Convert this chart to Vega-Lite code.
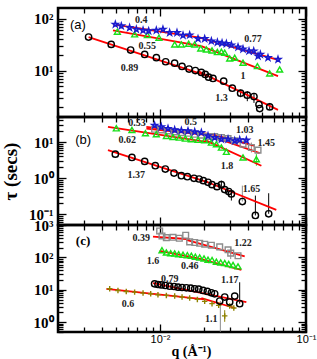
{
"$schema":"https://vega.github.io/schema/vega-lite/v6.json",
"padding":{"left":0,"top":6,"right":2,"bottom":0},
"background":"white",
"spacing":0,
"bounds":"flush",
"config":{"view":{"stroke":"black","strokeWidth":2.5},"axis":{"domain":false,"grid":false,"tickColor":"black","tickWidth":1.3,"labelFont":"Liberation Serif","labelFontWeight":"bold","labelFontSize":15,"labelColor":"black","titleFont":"Liberation Serif","titleFontWeight":"bold","titleColor":"black","labelOverlap":false,"labelFlush":false,"tickCount":10}},
"datasets":{
"pts":[
{"p":"a","s":"k","q":0.00324,"t":44.4},{"p":"a","s":"k","q":0.00463,"t":32.1},{"p":"a","s":"k","q":0.00629,"t":25.0},{"p":"a","s":"k","q":0.00785,"t":20.6},{"p":"a","s":"k","q":0.00944,"t":17.8},{"p":"a","s":"k","q":0.01093,"t":14.9},{"p":"a","s":"k","q":0.01259,"t":14.0},{"p":"a","s":"k","q":0.01415,"t":12.1},{"p":"a","s":"k","q":0.01581,"t":10.8},{"p":"a","s":"k","q":0.01746,"t":10.1},{"p":"a","s":"k","q":0.01919,"t":9.29},{"p":"a","s":"k","q":0.02042,"t":8.5},{"p":"a","s":"k","q":0.02153,"t":7.55},{"p":"a","s":"k","q":0.02306,"t":7.12},{"p":"a","s":"k","q":0.02729,"t":6.33},{"p":"a","s":"k","q":0.03128,"t":4.64},{"p":"a","s":"k","q":0.03565,"t":3.72},{"p":"a","s":"k","q":0.03962,"t":3.40},{"p":"a","s":"k","q":0.04401,"t":3.21},{"p":"a","s":"k","q":0.04763,"t":2.25},{"p":"a","s":"k","q":0.04818,"t":1.89},{"p":"a","s":"k","q":0.05641,"t":2.03},
{"p":"a","s":"g","q":0.0051,"t":56.2},{"p":"a","s":"g","q":0.0067,"t":50.0},{"p":"a","s":"g","q":0.00819,"t":48.5},{"p":"a","s":"g","q":0.00983,"t":43.1},{"p":"a","s":"g","q":0.0126,"t":32.1},{"p":"a","s":"g","q":0.014,"t":32.1},{"p":"a","s":"g","q":0.01571,"t":33.1},{"p":"a","s":"g","q":0.01728,"t":32.1},{"p":"a","s":"g","q":0.019,"t":26.9},{"p":"a","s":"g","q":0.02077,"t":25.7},{"p":"a","s":"g","q":0.02271,"t":24.6},{"p":"a","s":"g","q":0.0247,"t":22.9},{"p":"a","s":"g","q":0.02632,"t":23.2},{"p":"a","s":"g","q":0.02774,"t":22.2},{"p":"a","s":"g","q":0.03001,"t":17.3},{"p":"a","s":"g","q":0.03248,"t":17.8},{"p":"a","s":"g","q":0.03703,"t":14.3},{"p":"a","s":"g","q":0.04644,"t":12.3},{"p":"a","s":"g","q":0.05636,"t":8.89},{"p":"a","s":"g","q":0.066,"t":10.6},
{"p":"a","s":"b","q":0.00494,"t":77.8},{"p":"a","s":"b","q":0.00543,"t":72.3},{"p":"a","s":"b","q":0.00619,"t":67.1},{"p":"a","s":"b","q":0.00688,"t":62.3},{"p":"a","s":"b","q":0.00765,"t":59.6},{"p":"a","s":"b","q":0.00836,"t":57.9},{"p":"a","s":"b","q":0.00943,"t":59.6},{"p":"a","s":"b","q":0.01047,"t":62.3},{"p":"a","s":"b","q":0.01164,"t":53.8},{"p":"a","s":"b","q":0.01307,"t":53.8},{"p":"a","s":"b","q":0.01437,"t":47.8},{"p":"a","s":"b","q":0.01596,"t":48.5},{"p":"a","s":"b","q":0.01821,"t":41.2},{"p":"a","s":"b","q":0.02023,"t":41.2},{"p":"a","s":"b","q":0.02247,"t":37.2},{"p":"a","s":"b","q":0.0247,"t":35.1},{"p":"a","s":"b","q":0.0266,"t":34.0},{"p":"a","s":"b","q":0.02848,"t":33.1},{"p":"a","s":"b","q":0.03082,"t":31.2},{"p":"a","s":"b","q":0.03422,"t":28.5},{"p":"a","s":"b","q":0.03703,"t":26.1},{"p":"a","s":"b","q":0.0407,"t":23.9},{"p":"a","s":"b","q":0.04383,"t":23.9},{"p":"a","s":"b","q":0.04693,"t":19.1},{"p":"a","s":"b","q":0.04869,"t":20.6},{"p":"a","s":"b","q":0.0549,"t":17.8},{"p":"a","s":"b","q":0.0643,"t":16.5},
{"p":"b","s":"r","q":0.00918,"t":22.8},{"p":"b","s":"r","q":0.0102,"t":21.9},{"p":"b","s":"r","q":0.01134,"t":20.5},{"p":"b","s":"r","q":0.0126,"t":19.3},{"p":"b","s":"r","q":0.014,"t":18.45},{"p":"b","s":"r","q":0.01555,"t":17.7},{"p":"b","s":"r","q":0.01728,"t":16.6},{"p":"b","s":"r","q":0.01919,"t":15.6},{"p":"b","s":"r","q":0.02132,"t":14.3},{"p":"b","s":"r","q":0.02368,"t":14.3},{"p":"b","s":"r","q":0.02632,"t":13.4},{"p":"b","s":"r","q":0.02924,"t":12.6},{"p":"b","s":"r","q":0.03248,"t":10.9},{"p":"b","s":"r","q":0.03703,"t":8.79},{"p":"b","s":"r","q":0.04225,"t":7.1},{"p":"b","s":"r","q":0.04693,"t":6.0},
{"p":"b","s":"g","q":0.00502,"t":24.3},{"p":"b","s":"g","q":0.00642,"t":21.9},{"p":"b","s":"g","q":0.00794,"t":17.7},{"p":"b","s":"g","q":0.00943,"t":16.6},{"p":"b","s":"g","q":0.01105,"t":14.9},{"p":"b","s":"g","q":0.01227,"t":14.0},{"p":"b","s":"g","q":0.01356,"t":13.4},{"p":"b","s":"g","q":0.01491,"t":12.6},{"p":"b","s":"g","q":0.01639,"t":12.1},{"p":"b","s":"g","q":0.01821,"t":11.6},{"p":"b","s":"g","q":0.02023,"t":11.3},{"p":"b","s":"g","q":0.02247,"t":9.77},{"p":"b","s":"g","q":0.02432,"t":8.79},{"p":"b","s":"g","q":0.02632,"t":7.1},{"p":"b","s":"g","q":0.02848,"t":5.39},{"p":"b","s":"g","q":0.03703,"t":3.76},{"p":"b","s":"g","q":0.04571,"t":3.38},
{"p":"b","s":"b","q":0.00918,"t":29.4},{"p":"b","s":"b","q":0.0102,"t":26.5},{"p":"b","s":"b","q":0.01134,"t":23.8},{"p":"b","s":"b","q":0.0126,"t":21.9},{"p":"b","s":"b","q":0.014,"t":21.0},{"p":"b","s":"b","q":0.01555,"t":20.5},{"p":"b","s":"b","q":0.01728,"t":19.3},{"p":"b","s":"b","q":0.01919,"t":18.45},{"p":"b","s":"b","q":0.02132,"t":14.9},{"p":"b","s":"b","q":0.02368,"t":13.4},{"p":"b","s":"b","q":0.02632,"t":12.1},{"p":"b","s":"b","q":0.02924,"t":12.1},{"p":"b","s":"b","q":0.03248,"t":10.9},{"p":"b","s":"b","q":0.03513,"t":11.6},{"p":"b","s":"b","q":0.03903,"t":11.3},
{"p":"b","s":"k","q":0.00494,"t":4.65},{"p":"b","s":"k","q":0.00642,"t":3.76},{"p":"b","s":"k","q":0.00785,"t":2.92},{"p":"b","s":"k","q":0.00928,"t":2.214},{"p":"b","s":"k","q":0.01087,"t":1.79},{"p":"b","s":"k","q":0.01247,"t":1.39},{"p":"b","s":"k","q":0.014,"t":1.17},{"p":"b","s":"k","q":0.01539,"t":1.10},{"p":"b","s":"k","q":0.01709,"t":0.989},{"p":"b","s":"k","q":0.0185,"t":0.948},{"p":"b","s":"k","q":0.01981,"t":0.853},{"p":"b","s":"k","q":0.02132,"t":0.767},{"p":"b","s":"k","q":0.02271,"t":0.661},{"p":"b","s":"k","q":0.02457,"t":0.582},{"p":"b","s":"k","q":0.02632,"t":0.661},{"p":"b","s":"k","q":0.02774,"t":0.481},{"p":"b","s":"k","q":0.02955,"t":0.424},{"p":"b","s":"k","q":0.03082,"t":0.365},{"p":"b","s":"k","q":0.03664,"t":0.2245},{"p":"b","s":"k","q":0.045,"t":0.0921},{"p":"b","s":"k","q":0.0555,"t":0.1024},
{"p":"c","s":"r","q":0.00994,"t":654},{"p":"c","s":"r","q":0.01031,"t":460},{"p":"c","s":"r","q":0.01105,"t":409},{"p":"c","s":"r","q":0.01227,"t":418},{"p":"c","s":"r","q":0.01356,"t":390},{"p":"c","s":"r","q":0.01499,"t":482},{"p":"c","s":"r","q":0.01596,"t":301},{"p":"c","s":"r","q":0.01728,"t":288},{"p":"c","s":"r","q":0.01869,"t":274},{"p":"c","s":"r","q":0.02023,"t":256},{"p":"c","s":"r","q":0.02247,"t":238},{"p":"c","s":"r","q":0.02563,"t":212},{"p":"c","s":"r","q":0.02924,"t":172},{"p":"c","s":"r","q":0.03049,"t":136},{"p":"c","s":"r","q":0.03422,"t":112.4},
{"p":"c","s":"g","q":0.01031,"t":167.5},{"p":"c","s":"g","q":0.01105,"t":142},{"p":"c","s":"g","q":0.01183,"t":135.6},{"p":"c","s":"g","q":0.0126,"t":132.5},{"p":"c","s":"g","q":0.01342,"t":126.4},{"p":"c","s":"g","q":0.01437,"t":120.6},{"p":"c","s":"g","q":0.01539,"t":117.7},{"p":"c","s":"g","q":0.01639,"t":112.4},{"p":"c","s":"g","q":0.01746,"t":104.8},{"p":"c","s":"g","q":0.01869,"t":100},{"p":"c","s":"g","q":0.02002,"t":93.2},{"p":"c","s":"g","q":0.02132,"t":84.8},{"p":"c","s":"g","q":0.02271,"t":82.8},{"p":"c","s":"g","q":0.02432,"t":73.7},{"p":"c","s":"g","q":0.02604,"t":70.3},{"p":"c","s":"g","q":0.02774,"t":67.0},{"p":"c","s":"g","q":0.02955,"t":62.5},{"p":"c","s":"g","q":0.03164,"t":58.3},{"p":"c","s":"g","q":0.03422,"t":53.0},
{"p":"c","s":"o","q":0.00452,"t":10.75},{"p":"c","s":"o","q":0.00515,"t":9.56},{"p":"c","s":"o","q":0.00587,"t":8.91},{"p":"c","s":"o","q":0.0067,"t":8.5},{"p":"c","s":"o","q":0.00765,"t":7.92},{"p":"c","s":"o","q":0.00863,"t":7.56},{"p":"c","s":"o","q":0.00968,"t":7.05},{"p":"c","s":"o","q":0.01105,"t":6.72},{"p":"c","s":"o","q":0.0126,"t":6.4},{"p":"c","s":"o","q":0.01415,"t":5.98},{"p":"c","s":"o","q":0.01596,"t":5.57},{"p":"c","s":"o","q":0.01802,"t":5.07},{"p":"c","s":"o","q":0.02023,"t":4.41},{"p":"c","s":"o","q":0.02271,"t":3.74},{"p":"c","s":"o","q":0.02523,"t":3.32},{"p":"c","s":"o","q":0.02774,"t":1.57},{"p":"c","s":"o","q":0.03001,"t":3.17},{"p":"c","s":"o","q":0.03202,"t":2.75},
{"p":"c","s":"k","q":0.00918,"t":15.3},{"p":"c","s":"k","q":0.00968,"t":14.6},{"p":"c","s":"k","q":0.0102,"t":14.2},{"p":"c","s":"k","q":0.01087,"t":13.6},{"p":"c","s":"k","q":0.01164,"t":12.97},{"p":"c","s":"k","q":0.01247,"t":12.67},{"p":"c","s":"k","q":0.01328,"t":12.09},{"p":"c","s":"k","q":0.01415,"t":11.8},{"p":"c","s":"k","q":0.01515,"t":11.53},{"p":"c","s":"k","q":0.01623,"t":11.26},{"p":"c","s":"k","q":0.01728,"t":10.75},{"p":"c","s":"k","q":0.01842,"t":10.5},{"p":"c","s":"k","q":0.0197,"t":9.56},{"p":"c","s":"k","q":0.02108,"t":8.91},{"p":"c","s":"k","q":0.02247,"t":8.11},{"p":"c","s":"k","q":0.02368,"t":7.56},{"p":"c","s":"k","q":0.02563,"t":4.51},{"p":"c","s":"k","q":0.02774,"t":5.98},{"p":"c","s":"k","q":0.03001,"t":4.2},{"p":"c","s":"k","q":0.03248,"t":6.4},{"p":"c","s":"k","q":0.03513,"t":3.74}
],
"fits":[
{"p":"a","id":"a1","q":0.00324,"t":44.4},{"p":"a","id":"a1","q":0.02132,"t":7.89},
{"p":"a","id":"a2","q":0.0182,"t":9.86},{"p":"a","id":"a2","q":0.0643,"t":1.78},
{"p":"a","id":"a3","q":0.00476,"t":77.8},{"p":"a","id":"a3","q":0.02023,"t":41.9},
{"p":"a","id":"a4","q":0.01821,"t":44.4},{"p":"a","id":"a4","q":0.066,"t":15.8},
{"p":"a","id":"a5","q":0.00476,"t":59.6},{"p":"a","id":"a5","q":0.01919,"t":29.8},
{"p":"a","id":"a6","q":0.01919,"t":29.8},{"p":"a","id":"a6","q":0.0643,"t":7.9},
{"p":"b","id":"b1","q":0.0044,"t":6.0},{"p":"b","id":"b1","q":0.02132,"t":0.767},
{"p":"b","id":"b2","q":0.02023,"t":0.836},{"p":"b","id":"b2","q":0.0626,"t":0.132},
{"p":"b","id":"b3","q":0.0044,"t":26.5},{"p":"b","id":"b3","q":0.02247,"t":9.77},
{"p":"b","id":"b4","q":0.02023,"t":11.6},{"p":"b","id":"b4","q":0.04946,"t":2.214},
{"p":"b","id":"b5","q":0.00806,"t":26.5},{"p":"b","id":"b5","q":0.02247,"t":16.6},
{"p":"b","id":"b6","q":0.02247,"t":16.6},{"p":"b","id":"b6","q":0.04453,"t":7.9},
{"p":"b","id":"b7","q":0.00806,"t":23.8},{"p":"b","id":"b7","q":0.02132,"t":15.6},
{"p":"b","id":"b8","q":0.02132,"t":15.6},{"p":"b","id":"b8","q":0.04818,"t":4.95},
{"p":"c","id":"c1","q":0.00895,"t":439},{"p":"c","id":"c1","q":0.01596,"t":363.6},
{"p":"c","id":"c2","q":0.01515,"t":347},{"p":"c","id":"c2","q":0.03802,"t":107.3},
{"p":"c","id":"c3","q":0.00994,"t":159.8},{"p":"c","id":"c3","q":0.01821,"t":93.2},
{"p":"c","id":"c4","q":0.01821,"t":93.2},{"p":"c","id":"c4","q":0.03607,"t":41.0},
{"p":"c","id":"c5","q":0.00895,"t":16.0},{"p":"c","id":"c5","q":0.03903,"t":4.2},
{"p":"c","id":"c6","q":0.00429,"t":10.75},{"p":"c","id":"c6","q":0.02023,"t":5.07},
{"p":"c","id":"c7","q":0.01919,"t":5.57},{"p":"c","id":"c7","q":0.03248,"t":2.75}
],
"errs":[
{"p":"a","s":"k","q":0.03565,"lo":3.11,"hi":4.37},{"p":"a","s":"k","q":0.03962,"lo":2.61,"hi":4.06},{"p":"a","s":"k","q":0.04401,"lo":2.42,"hi":3.77},{"p":"a","s":"k","q":0.05641,"lo":1.80,"hi":2.42},
{"p":"b","s":"k","q":0.02632,"lo":0.451,"hi":0.853},{"p":"b","s":"k","q":0.03082,"lo":0.239,"hi":0.451},{"p":"b","s":"r","q":0.03664,"lo":0.2245,"hi":0.62},{"p":"b","s":"k","q":0.045,"lo":0.0921,"hi":0.328},{"p":"b","s":"k","q":0.0555,"lo":0.1024,"hi":0.381},{"p":"b","s":"r","q":0.04225,"lo":5.17,"hi":9.77},{"p":"b","s":"g","q":0.04571,"lo":2.214,"hi":4.65},
{"p":"c","s":"k","q":0.03513,"lo":3.74,"hi":17.1},{"p":"c","s":"r","q":0.0259,"lo":0.51,"hi":4.51},{"p":"c","s":"o","q":0.02774,"lo":1.03,"hi":2.36},{"p":"c","s":"r","q":0.03049,"lo":88.9,"hi":202}
],
"labels":[
{"p":"a","q":0.00745,"t":92.8,"txt":"0.4"},{"p":"a","q":0.04337,"t":40.0,"txt":"0.77"},{"p":"a","q":0.00819,"t":29.8,"txt":"0.55"},{"p":"a","q":0.00619,"t":11.4,"txt":"0.89"},{"p":"a","q":0.03703,"t":7.9,"txt":"1"},{"p":"a","q":0.02632,"t":3.03,"txt":"1.3"},
{"p":"b","q":0.00695,"t":34.9,"txt":"0.53"},{"p":"b","q":0.01622,"t":37.2,"txt":"0.5"},{"p":"b","q":0.03802,"t":21.9,"txt":"1.03"},{"p":"b","q":0.0535,"t":9.36,"txt":"1.45"},{"p":"b","q":0.00597,"t":11.6,"txt":"0.62"},{"p":"b","q":0.02878,"t":2.12,"txt":"1.8"},{"p":"b","q":0.00688,"t":1.25,"txt":"1.37"},{"p":"b","q":0.04225,"t":0.502,"txt":"1.65"},
{"p":"c","q":0.00745,"t":409,"txt":"0.39"},{"p":"c","q":0.03703,"t":288,"txt":"1.22"},{"p":"c","q":0.00895,"t":79.9,"txt":"1.6"},{"p":"c","q":0.01596,"t":53.0,"txt":"0.46"},{"p":"c","q":0.03001,"t":20.3,"txt":"1.17"},{"p":"c","q":0.01164,"t":21.8,"txt":"0.79"},{"p":"c","q":0.00603,"t":3.74,"txt":"0.6"},{"p":"c","q":0.02247,"t":1.30,"txt":"1.1"}
],
"tags":[
{"p":"a","q":0.00274,"t":75.5,"txt":"(a)"},{"p":"b","q":0.00297,"t":11.6,"txt":"(b)"},{"p":"c","q":0.00297,"t":323,"txt":"(c)"}
]
},
"vconcat":[
{"width":248,"height":109,
"resolve":{"axis":{"x":"independent","y":"independent"}},
"layer":[
{"data":{"name":"errs"},"transform":[{"filter":"datum.p=='a'"}],"mark":{"type":"rule","strokeWidth":1,"clip":true},
"encoding":{"x":{"field":"q","type":"quantitative","scale":{"type":"log","domain":[0.002,0.1],"nice":false},"axis":{"orient":"bottom","labels":false,"title":null,"tickSize":{"condition":{"test":"abs(log(datum.value)/LN10-round(log(datum.value)/LN10))<0.001","value":-8},"value":-5}}},
"y":{"field":"lo","type":"quantitative","scale":{"type":"log","domain":[1.3,160],"nice":false},"axis":{"orient":"left","labels":false,"title":null,"tickSize":{"condition":{"test":"abs(log(datum.value)/LN10-round(log(datum.value)/LN10))<0.001","value":-8},"value":-5}}},
"y2":{"field":"hi"},
"color":{"field":"s","type":"nominal","scale":{"domain":["k","b","g","r","o"],"range":["#000000","#1a2cff","#19e019","#8c8c8c","#8f7f00"]},"legend":null}}},
{"data":{"name":"fits"},"transform":[{"filter":"datum.p=='a'"}],"mark":{"type":"line","color":"#ff0000","strokeWidth":1.8,"clip":true},
"encoding":{"x":{"field":"q","type":"quantitative","axis":null},"y":{"field":"t","type":"quantitative","axis":null},"detail":{"field":"id"}}},
{"data":{"name":"pts"},"transform":[{"filter":"datum.p=='a'"}],"mark":{"type":"point","strokeWidth":1.4,"opacity":1,"clip":true},
"encoding":{"x":{"field":"q","type":"quantitative","axis":null},"y":{"field":"t","type":"quantitative","axis":null},
"size":{"field":"s","type":"nominal","scale":{"domain":["k","b","g","r","o"],"range":[40,30,40,36,45]},"legend":null},
"shape":{"field":"s","type":"nominal","scale":{"domain":["k","b","g","r","o"],"range":["circle","M0,-1L0.2245,-0.309L0.951,-0.309L0.363,0.118L0.588,0.809L0,0.382L-0.588,0.809L-0.363,0.118L-0.951,-0.309L-0.2245,-0.309Z","triangle-up","square","M-1,0H1M0,-1V1"]},"legend":null},
"stroke":{"field":"s","type":"nominal","scale":{"domain":["k","b","g","r","o"],"range":["#000000","#1a1acc","#19e019","#8c8c8c","#8f8200"]},"legend":null},
"fill":{"field":"s","type":"nominal","scale":{"domain":["k","b","g","r","o"],"range":["transparent","#5a78ff","transparent","transparent","transparent"]},"legend":null}}},
{"data":{"name":"tags"},"transform":[{"filter":"datum.p=='a'"}],"mark":{"type":"text","font":"Liberation Sans","fontSize":13,"color":"black"},
"encoding":{"x":{"field":"q","type":"quantitative","axis":null},"y":{"field":"t","type":"quantitative","axis":{"orient":"left","ticks":false,"tickSize":0,"labelPadding":5,"title":null,"labelExpr":"abs(log(datum.value)/LN10-round(log(datum.value)/LN10))<0.001 ? '10'+replace(replace(replace(replace(replace(''+round(log(datum.value)/LN10),'-','⁻'),'0','⁰'),'1','¹'),'2','²'),'3','³') : ''"}},"text":{"field":"txt"}}},
{"data":{"name":"labels"},"transform":[{"filter":"datum.p=='a'"}],"mark":{"type":"text","font":"Liberation Serif","fontWeight":"bold","fontSize":10,"color":"#222222"},
"encoding":{"x":{"field":"q","type":"quantitative","axis":{"orient":"top","labels":false,"title":null,"tickSize":{"condition":{"test":"abs(log(datum.value)/LN10-round(log(datum.value)/LN10))<0.001","value":-8},"value":-5}}},
"y":{"field":"t","type":"quantitative","axis":{"orient":"right","labels":false,"title":null,"tickSize":{"condition":{"test":"abs(log(datum.value)/LN10-round(log(datum.value)/LN10))<0.001","value":-8},"value":-5}}},"text":{"field":"txt"}}}
]},
{"width":248,"height":108,
"resolve":{"axis":{"x":"independent","y":"independent"}},
"layer":[
{"data":{"name":"errs"},"transform":[{"filter":"datum.p=='b'"}],"mark":{"type":"rule","strokeWidth":1,"clip":true},
"encoding":{"x":{"field":"q","type":"quantitative","scale":{"type":"log","domain":[0.002,0.1],"nice":false},"axis":{"orient":"bottom","labels":false,"title":null,"tickSize":{"condition":{"test":"abs(log(datum.value)/LN10-round(log(datum.value)/LN10))<0.001","value":-8},"value":-5}}},
"y":{"field":"lo","type":"quantitative","scale":{"type":"log","domain":[0.05,50],"nice":false},"axis":{"orient":"left","labels":false,"title":null,"tickSize":{"condition":{"test":"abs(log(datum.value)/LN10-round(log(datum.value)/LN10))<0.001","value":-8},"value":-5}}},
"y2":{"field":"hi"},
"color":{"field":"s","type":"nominal","scale":{"domain":["k","b","g","r","o"],"range":["#000000","#1a2cff","#19e019","#8c8c8c","#8f7f00"]},"legend":null}}},
{"data":{"name":"fits"},"transform":[{"filter":"datum.p=='b'"}],"mark":{"type":"line","color":"#ff0000","strokeWidth":1.8,"clip":true},
"encoding":{"x":{"field":"q","type":"quantitative","axis":null},"y":{"field":"t","type":"quantitative","axis":null},"detail":{"field":"id"}}},
{"data":{"name":"pts"},"transform":[{"filter":"datum.p=='b'"}],"mark":{"type":"point","strokeWidth":1.4,"opacity":1,"clip":true},
"encoding":{"x":{"field":"q","type":"quantitative","axis":null},"y":{"field":"t","type":"quantitative","axis":null},
"size":{"field":"s","type":"nominal","scale":{"domain":["k","b","g","r","o"],"range":[40,30,40,36,45]},"legend":null},
"shape":{"field":"s","type":"nominal","scale":{"domain":["k","b","g","r","o"],"range":["circle","M0,-1L0.2245,-0.309L0.951,-0.309L0.363,0.118L0.588,0.809L0,0.382L-0.588,0.809L-0.363,0.118L-0.951,-0.309L-0.2245,-0.309Z","triangle-up","square","M-1,0H1M0,-1V1"]},"legend":null},
"stroke":{"field":"s","type":"nominal","scale":{"domain":["k","b","g","r","o"],"range":["#000000","#1a1acc","#19e019","#8c8c8c","#8f8200"]},"legend":null},
"fill":{"field":"s","type":"nominal","scale":{"domain":["k","b","g","r","o"],"range":["transparent","#5a78ff","transparent","transparent","transparent"]},"legend":null}}},
{"data":{"name":"tags"},"transform":[{"filter":"datum.p=='b'"}],"mark":{"type":"text","font":"Liberation Sans","fontSize":13,"color":"black"},
"encoding":{"x":{"field":"q","type":"quantitative","axis":null},"y":{"field":"t","type":"quantitative","axis":{"orient":"left","ticks":false,"tickSize":0,"labelPadding":5,"title":"τ (secs)","titleFontSize":19,"titlePadding":8,"labelExpr":"abs(log(datum.value)/LN10-round(log(datum.value)/LN10))<0.001 ? '10'+replace(replace(replace(replace(replace(''+round(log(datum.value)/LN10),'-','⁻'),'0','⁰'),'1','¹'),'2','²'),'3','³') : ''"}},"text":{"field":"txt"}}},
{"data":{"name":"labels"},"transform":[{"filter":"datum.p=='b'"}],"mark":{"type":"text","font":"Liberation Serif","fontWeight":"bold","fontSize":10,"color":"#222222"},
"encoding":{"x":{"field":"q","type":"quantitative","axis":{"orient":"top","labels":false,"title":null,"tickSize":{"condition":{"test":"abs(log(datum.value)/LN10-round(log(datum.value)/LN10))<0.001","value":-8},"value":-5}}},
"y":{"field":"t","type":"quantitative","axis":{"orient":"right","labels":false,"title":null,"tickSize":{"condition":{"test":"abs(log(datum.value)/LN10-round(log(datum.value)/LN10))<0.001","value":-8},"value":-5}}},"text":{"field":"txt"}}}
]},
{"width":248,"height":107,
"resolve":{"axis":{"x":"independent","y":"independent"}},
"layer":[
{"data":{"name":"errs"},"transform":[{"filter":"datum.p=='c'"}],"mark":{"type":"rule","strokeWidth":1,"clip":true},
"encoding":{"x":{"field":"q","type":"quantitative","scale":{"type":"log","domain":[0.002,0.1],"nice":false},"axis":{"orient":"bottom","labels":false,"title":null,"tickSize":{"condition":{"test":"abs(log(datum.value)/LN10-round(log(datum.value)/LN10))<0.001","value":-8},"value":-5}}},
"y":{"field":"lo","type":"quantitative","scale":{"type":"log","domain":[0.5,1000],"nice":false},"axis":{"orient":"left","labels":false,"title":null,"tickSize":{"condition":{"test":"abs(log(datum.value)/LN10-round(log(datum.value)/LN10))<0.001","value":-8},"value":-5}}},
"y2":{"field":"hi"},
"color":{"field":"s","type":"nominal","scale":{"domain":["k","b","g","r","o"],"range":["#000000","#1a2cff","#19e019","#8c8c8c","#8f7f00"]},"legend":null}}},
{"data":{"name":"fits"},"transform":[{"filter":"datum.p=='c'"}],"mark":{"type":"line","color":"#ff0000","strokeWidth":1.8,"clip":true},
"encoding":{"x":{"field":"q","type":"quantitative","axis":null},"y":{"field":"t","type":"quantitative","axis":null},"detail":{"field":"id"}}},
{"data":{"name":"pts"},"transform":[{"filter":"datum.p=='c'"}],"mark":{"type":"point","strokeWidth":1.4,"opacity":1,"clip":true},
"encoding":{"x":{"field":"q","type":"quantitative","axis":null},"y":{"field":"t","type":"quantitative","axis":null},
"size":{"field":"s","type":"nominal","scale":{"domain":["k","b","g","r","o"],"range":[40,30,40,36,45]},"legend":null},
"shape":{"field":"s","type":"nominal","scale":{"domain":["k","b","g","r","o"],"range":["circle","M0,-1L0.2245,-0.309L0.951,-0.309L0.363,0.118L0.588,0.809L0,0.382L-0.588,0.809L-0.363,0.118L-0.951,-0.309L-0.2245,-0.309Z","triangle-up","square","M-1,0H1M0,-1V1"]},"legend":null},
"stroke":{"field":"s","type":"nominal","scale":{"domain":["k","b","g","r","o"],"range":["#000000","#1a1acc","#19e019","#8c8c8c","#8f8200"]},"legend":null},
"fill":{"field":"s","type":"nominal","scale":{"domain":["k","b","g","r","o"],"range":["transparent","#5a78ff","transparent","transparent","transparent"]},"legend":null}}},
{"data":{"name":"tags"},"transform":[{"filter":"datum.p=='c'"}],"mark":{"type":"text","font":"Liberation Serif","fontWeight":"bold","fontSize":13,"color":"black"},
"encoding":{"x":{"field":"q","type":"quantitative","axis":{"orient":"bottom","ticks":false,"tickSize":0,"labelPadding":1,"title":"q (Å⁻¹)","titleFontSize":14,"titlePadding":0,"titleX":133,"labelFont":"Liberation Sans","labelFontWeight":"normal","labelFontSize":11,"labelExpr":"abs(log(datum.value)/LN10-round(log(datum.value)/LN10))<0.001 ? '10'+replace(replace(replace(replace(replace(''+round(log(datum.value)/LN10),'-','⁻'),'0','⁰'),'1','¹'),'2','²'),'3','³') : ''"}},
"y":{"field":"t","type":"quantitative","axis":{"orient":"left","ticks":false,"tickSize":0,"labelPadding":5,"title":null,"labelExpr":"abs(log(datum.value)/LN10-round(log(datum.value)/LN10))<0.001 ? '10'+replace(replace(replace(replace(replace(''+round(log(datum.value)/LN10),'-','⁻'),'0','⁰'),'1','¹'),'2','²'),'3','³') : ''"}},"text":{"field":"txt"}}},
{"data":{"name":"labels"},"transform":[{"filter":"datum.p=='c'"}],"mark":{"type":"text","font":"Liberation Serif","fontWeight":"bold","fontSize":10,"color":"#222222"},
"encoding":{"x":{"field":"q","type":"quantitative","axis":{"orient":"top","labels":false,"title":null,"tickSize":{"condition":{"test":"abs(log(datum.value)/LN10-round(log(datum.value)/LN10))<0.001","value":-8},"value":-5}}},
"y":{"field":"t","type":"quantitative","axis":{"orient":"right","labels":false,"title":null,"tickSize":{"condition":{"test":"abs(log(datum.value)/LN10-round(log(datum.value)/LN10))<0.001","value":-8},"value":-5}}},"text":{"field":"txt"}}}
]}
]
}
